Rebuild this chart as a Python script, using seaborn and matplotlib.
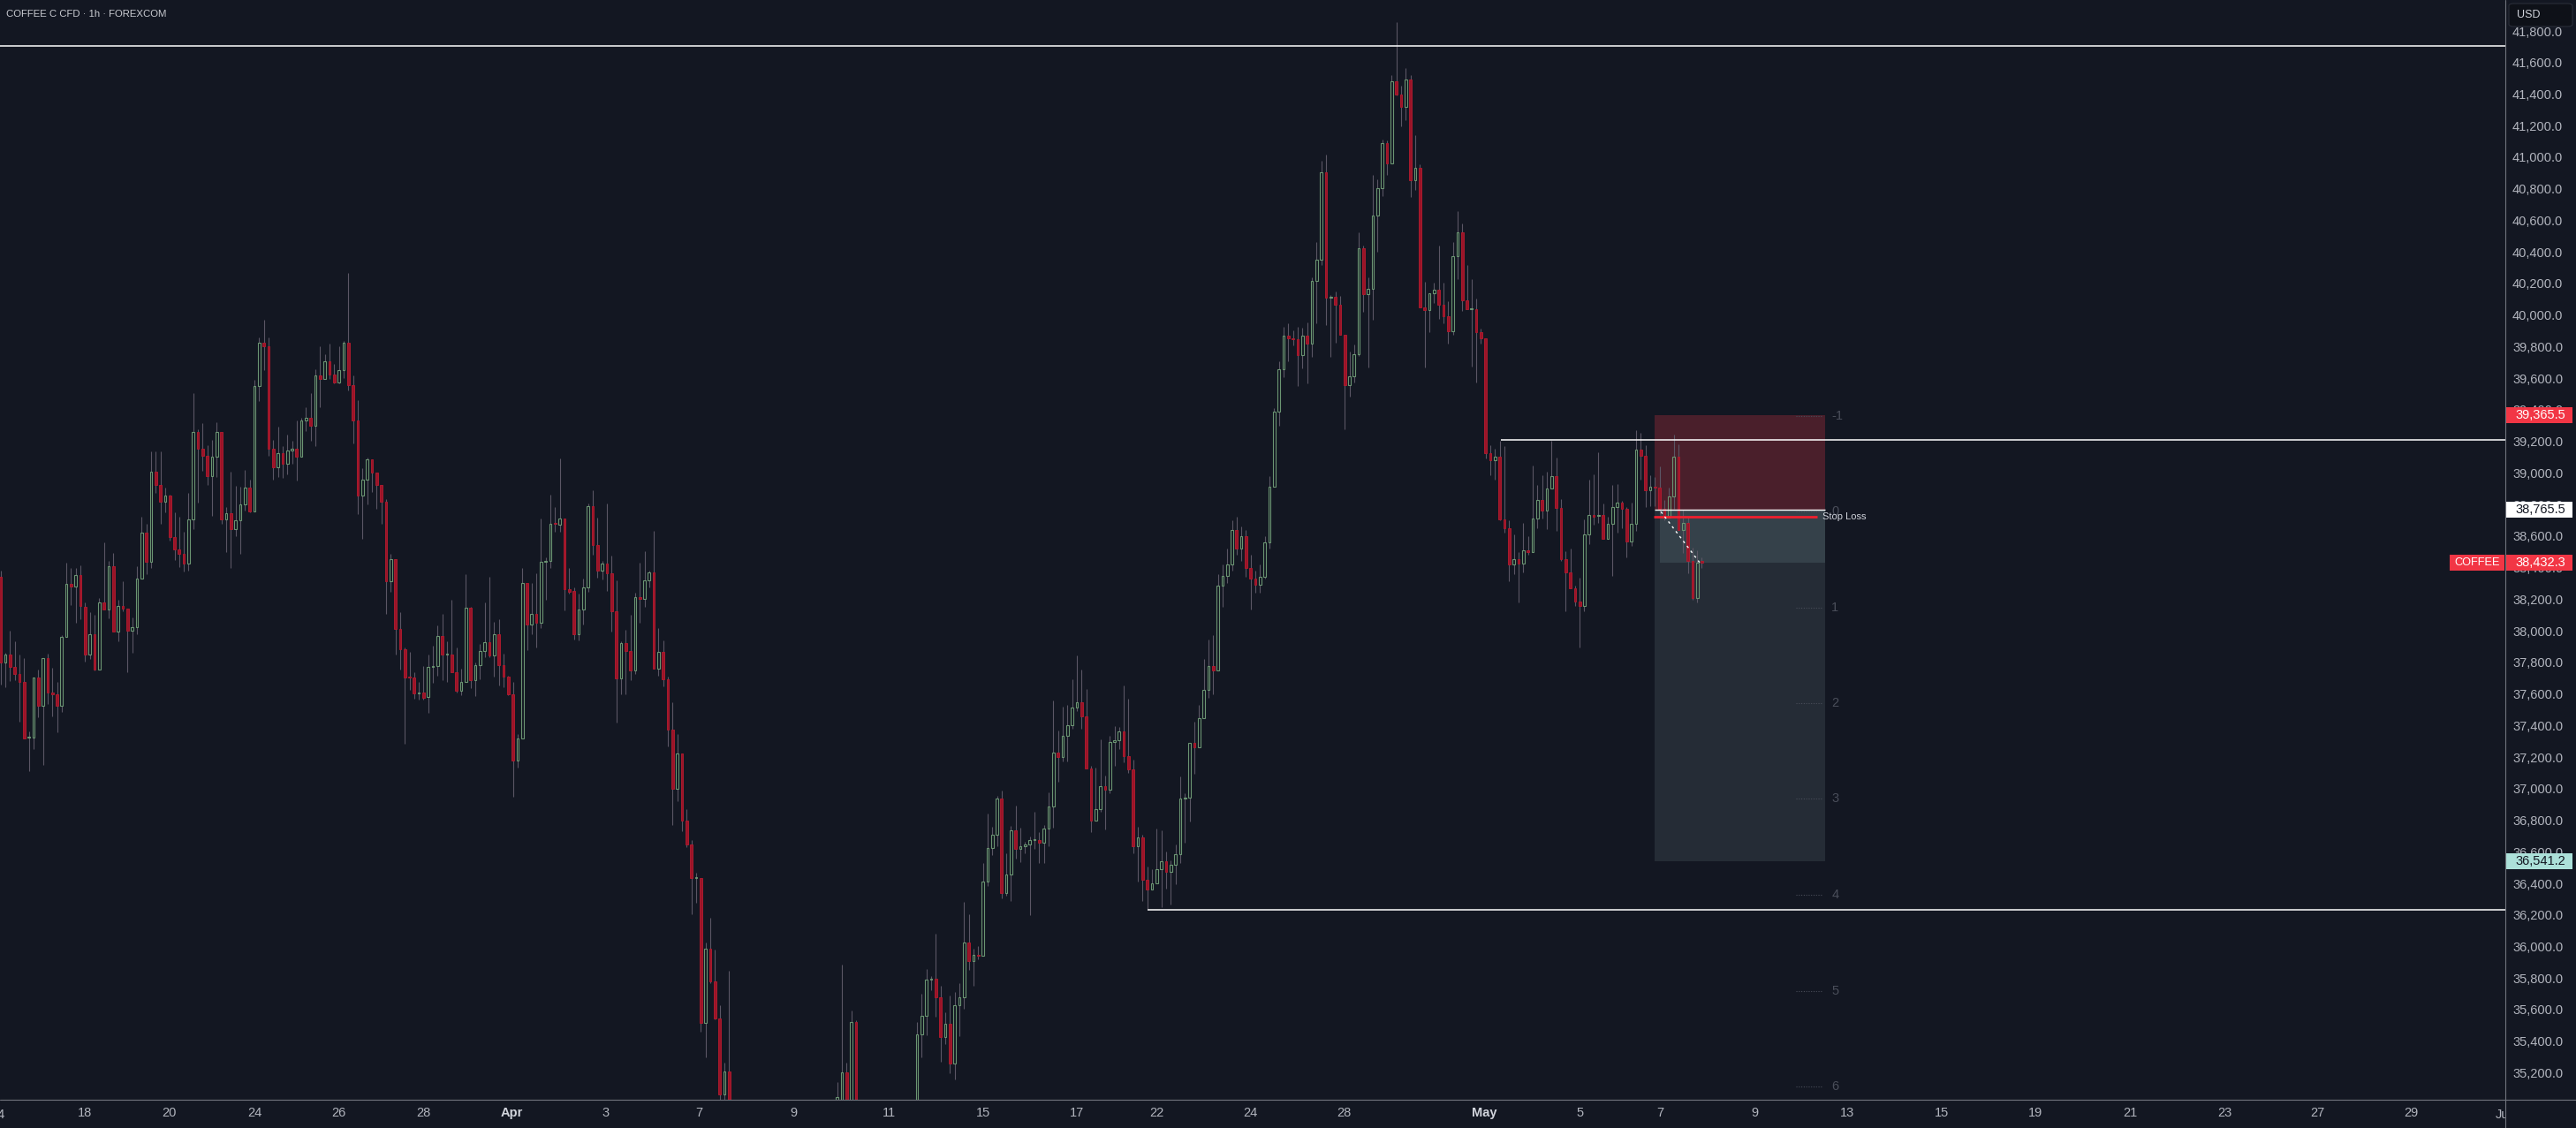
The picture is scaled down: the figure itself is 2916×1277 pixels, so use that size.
import numpy as np
import pandas as pd
import matplotlib
matplotlib.use("Agg")
import matplotlib.pyplot as plt
import seaborn as sns
from matplotlib.patches import Rectangle, FancyBboxPatch
from matplotlib.lines import Line2D
from matplotlib.transforms import blended_transform_factory, Bbox, TransformedBbox

# ---------------- data (hourly candles) ----------------
opens = [
    38340, 37800, 37850, 37770, 37725, 37675, 37325, 37325, 37705, 37525,
    37825, 37610, 37595, 37525, 37960, 38295, 38280, 38355, 38150, 37850,
    37980, 37755, 38180, 38135, 38410, 37995, 38155, 38140, 38000, 38025,
    38330, 38620, 38435, 39005, 38925, 38815, 38855, 38595, 38515, 38490,
    38425, 38705, 39260, 39155, 39110, 38980, 39105, 39260, 38705, 38745,
    38645, 38700, 38800, 38905, 38755, 39550, 39825, 39805, 39155, 39035,
    39125, 39060, 39140, 39155, 39105, 39335, 39350, 39300, 39620, 39595,
    39705, 39625, 39575, 39650, 39825, 39555, 39330, 38855, 38955, 39085,
    39000, 38925, 38815, 38315, 38455, 38010, 37885, 37708, 37705, 37605,
    37610, 37580, 37770, 37775, 37965, 37850, 37850, 37740, 37620, 37675,
    38145, 37685, 37780, 37870, 37925, 37845, 37980, 37785, 37710, 37595,
    37180, 37320, 38305, 38040, 38105, 38050, 38435, 38445, 38680, 38670,
    38710, 38265, 38250, 37980, 38135, 38275, 38790, 38545, 38380, 38425,
    38365, 38125, 37700, 37920, 37870, 37750, 38215, 38200, 38320, 38370,
    37760, 37865, 37690, 37375, 37000, 37220, 36800, 36645, 36435, 36435,
    35515, 35985, 35780, 35545, 35065, 35210, 34950, 34760, 34650, 34720,
    34850, 34740, 34540, 34620, 34700, 34640, 34450, 34560, 34690, 34610,
    34520, 34640, 34760, 34700, 34580, 34720, 34820, 34880, 34900, 34990,
    35205, 34950, 35520, 34880, 34700, 34780, 34900, 34760, 34640, 34720,
    34840, 34800, 34700, 34820, 34880, 34940, 35445, 35560, 35790, 35795,
    35680, 35425, 35510, 35260, 35630, 35680, 36025, 35905, 35945, 35943,
    36410, 36625, 36705, 36940, 36340, 36455, 36735, 36620, 36635, 36645,
    36675, 36675, 36655, 36745, 36885, 37230, 37200, 37335, 37400, 37515,
    37545, 37455, 37125, 36800, 36870, 37015, 36995, 37295, 37305, 37365,
    37205, 37120, 36635, 36690, 36425, 36360, 36400, 36490, 36540, 36470,
    36515, 36585, 36935, 36945, 37290, 37260, 37445, 37625, 37775, 37750,
    38285, 38350, 38420, 38640, 38520, 38600, 38400, 38330, 38290, 38340,
    38560, 38910, 39390, 39655, 39870, 39852, 39849, 39745, 39870, 39820,
    40215, 40350, 40905, 40110, 40118, 40065, 39875, 39555, 39610, 39750,
    40425, 40135, 40165, 40630, 40805, 41090, 40960, 41480, 41400, 41320,
    41495, 40855, 40930, 40050, 40030, 40140, 40160, 40065, 39990, 39895,
    40375, 40525, 40095, 40040, 40040, 39890, 39855, 39125, 39080, 39105,
    38705, 38650, 38420, 38455, 38425, 38510, 38500, 38710, 38830, 38760,
    38900, 38980, 38780, 38455, 38370, 38270, 38185, 38155, 38610, 38735,
    38728, 38733, 38585, 38675, 38785, 38810, 38770, 38565, 38680, 39150,
    39110, 38890, 38908, 38905, 38775, 38718, 38850, 39105, 38640, 38685,
    38440, 38205, 38440,
]
highs = [
    38380, 37860, 38000, 37935, 37850, 37825, 37360, 37705, 37755, 37825,
    37855, 37765, 37675, 37975, 38430, 38400, 38395, 38415, 38180, 38120,
    38100, 38205, 38560, 38445, 38495, 38195, 38315, 38140, 38085, 38410,
    38720, 38680, 39135, 39135, 39135, 38905, 38860, 38750, 38725, 38630,
    38875, 39505, 39275, 39315, 39175, 39210, 39320, 39260, 38785, 39005,
    38920, 38910, 39020, 38960, 39590, 39860, 39970, 39860, 39210, 39295,
    39170, 39240, 39205, 39335, 39350, 39415, 39505, 39655, 39800, 39750,
    39820, 39690, 39800, 39835, 40265, 39620, 39460, 39030, 39100, 39085,
    39000, 38925, 38835, 38490, 38455, 38120, 37895, 37865, 37735, 37675,
    37775, 37850, 37905, 38035, 38105, 37935, 38195, 37895, 37760, 38360,
    38150, 37800, 37915, 38180, 38340, 38055, 38075, 37855, 37715, 37675,
    37345, 38395, 38305, 38300, 38365, 38710, 38465, 38865, 38785, 39090,
    38710, 38395, 38275, 38235, 38330, 38805, 38890, 38715, 38445, 38805,
    38475, 38320, 37935, 38005, 38100, 38240, 38430, 38505, 38380, 38635,
    38020, 37940, 37710, 37545, 37345, 37220, 36870, 36675, 36465, 36435,
    36025, 36180, 35980, 35625, 35265, 35845, 34990, 34880, 34800, 34900,
    34960, 34800, 34700, 34780, 34850, 34720, 34600, 34750, 34820, 34700,
    34680, 34800, 34900, 34780, 34760, 34880, 34950, 34980, 35140, 35885,
    35265, 35595, 35535, 34960, 34820, 34950, 34990, 34850, 34780, 34880,
    34960, 34900, 34860, 34950, 34980, 35520, 35700, 35860, 35810, 36080,
    35750, 35585, 35690, 35710, 35770, 36280, 36205, 35985, 36005, 36530,
    36840, 36760, 36955, 36990, 36590, 36765, 36890, 36755, 36665, 36695,
    36855, 36725, 36770, 36975, 37560, 37370, 37520, 37530, 37695, 37845,
    37755, 37630, 37145, 37135, 37310, 37080, 37335, 37395, 37390, 37655,
    37570, 37185, 36760, 36705, 36505, 36490, 36745, 36735, 36600, 36545,
    36645, 37075, 36970, 37290, 37425, 37530, 37820, 37945, 37975, 38360,
    38420, 38520, 38700, 38720, 38660, 38640, 38480, 38380, 38420, 38600,
    38980, 39410, 39710, 39925, 39950, 39905, 39925, 39920, 39955, 40240,
    40460, 40980, 41015, 40125, 40150, 40120, 39875, 39770, 39815, 40525,
    40440, 40240, 40890, 40860, 41110, 41105, 41520, 41855, 41455, 41565,
    41520, 41140, 40955, 40210, 40140, 40205, 40440, 40205, 40090, 40460,
    40660, 40580, 40315, 40230, 40105, 39915, 39855, 39175, 39155, 39205,
    39170, 38700, 38610, 38500, 38685, 38600, 39045, 38925, 38985, 39010,
    39205, 39100, 38835, 38505, 38520, 38285, 38335, 38705, 38955, 38990,
    39130, 38805, 38725, 38925, 38930, 38825, 38785, 38810, 39270, 39255,
    39175, 38985, 38975, 39040, 38830, 38905, 39245, 39180, 38765, 38720,
    38525, 38510, 38465,
]
lows = [
    37660, 37640, 37680, 37685, 37425, 37315, 37110, 37250, 37450, 37150,
    37535, 37455, 37355, 37485, 37960, 38165, 38050, 38075, 37805, 37820,
    37750, 37755, 38135, 38080, 37995, 37935, 38125, 37735, 37860, 37980,
    38330, 38360, 38395, 38875, 38680, 38750, 38570, 38450, 38405, 38375,
    38380, 38645, 38810, 39015, 38925, 38730, 38975, 38675, 38500, 38395,
    38600, 38490, 38760, 38750, 38755, 39455, 39650, 39110, 38960, 38975,
    38970, 38990, 39060, 38950, 39105, 39265, 39205, 39170, 39415, 39595,
    39595, 39570, 39570, 39600, 39525, 39185, 38740, 38585, 38800, 38880,
    38775, 38675, 38105, 38245, 37850, 37755, 37285, 37625, 37570, 37565,
    37565, 37480, 37670, 37715, 37685, 37675, 37735, 37610, 37590, 37675,
    37635, 37585, 37690, 37835, 37835, 37710, 37655, 37645, 37590, 36950,
    37135, 37320, 37875, 37980, 37895, 38015, 38195, 38400, 38630, 38625,
    38130, 38235, 37945, 37940, 38040, 38245, 38480, 38335, 38325, 38255,
    37995, 37420, 37600, 37600, 37685, 37725, 38050, 38150, 38275, 37760,
    37715, 37650, 37270, 36770, 36920, 36730, 36630, 36205, 36275, 35460,
    35300, 35765, 35540, 34900, 34880, 34800, 34700, 34600, 34520, 34650,
    34700, 34480, 34400, 34560, 34600, 34380, 34320, 34500, 34580, 34450,
    34420, 34560, 34650, 34520, 34500, 34640, 34700, 34760, 34850, 34950,
    34850, 34900, 34820, 34650, 34560, 34700, 34720, 34600, 34520, 34660,
    34760, 34650, 34620, 34760, 34800, 34900, 35300, 35440, 35725, 35555,
    35270, 35380, 35195, 35160, 35430, 35605, 35850, 35750, 35920, 35943,
    36385, 36580, 36635, 36305, 36320, 36290, 36555, 36535, 36590, 36200,
    36620, 36530, 36530, 36635, 36755, 37045, 37175, 37175, 37380, 37490,
    37380, 37125, 36725, 36800, 36855, 36740, 36970, 37145, 37250, 37165,
    37100, 36590, 36410, 36290, 36240, 36360, 36400, 36250, 36365, 36265,
    36395, 36530, 36655, 36790, 37095, 37260, 37445, 37575, 37600, 37750,
    38150, 38300, 38380, 38480, 38440, 38340, 38135, 38240, 38240, 38330,
    38520, 38910, 39300, 39605, 39710, 39810, 39550, 39660, 39570, 39735,
    39950, 40320, 39935, 39735, 39825, 39875, 39275, 39485, 39575, 39740,
    40020, 39670, 39970, 40400, 40755, 40890, 40960, 41390, 41195, 41235,
    40750, 40795, 40050, 39670, 39890, 40075, 39975, 39950, 39820, 39875,
    40230, 40025, 40040, 39675, 39575, 39820, 39090, 38985, 38955, 38700,
    38620, 38315, 38360, 38180, 38370, 38480, 38500, 38650, 38710, 38645,
    38900, 38635, 38445, 38125, 38270, 38155, 37895, 38125, 38550, 38670,
    38685, 38585, 38585, 38345, 38620, 38650, 38465, 38540, 38635, 38955,
    38785, 38790, 38790, 38740, 38700, 38718, 38770, 38640, 38495, 38365,
    38195, 38180, 38395,
]
closes = [
    37800, 37850, 37770, 37725, 37675, 37315, 37325, 37705, 37525, 37825,
    37610, 37595, 37525, 37960, 38295, 38280, 38355, 38155, 37850, 37980,
    37755, 38180, 38135, 38410, 37995, 38155, 38140, 38000, 38025, 38330,
    38620, 38435, 39005, 38925, 38815, 38855, 38595, 38515, 38490, 38425,
    38705, 39260, 39155, 39110, 38980, 39105, 39260, 38705, 38745, 38645,
    38700, 38800, 38905, 38755, 39550, 39825, 39805, 39155, 39035, 39125,
    39060, 39140, 39155, 39105, 39335, 39350, 39300, 39620, 39595, 39705,
    39625, 39575, 39650, 39825, 39555, 39330, 38855, 38955, 39085, 39000,
    38925, 38815, 38315, 38455, 38010, 37885, 37705, 37705, 37605, 37610,
    37575, 37770, 37775, 37965, 37850, 37852, 37740, 37620, 37675, 38145,
    37685, 37780, 37870, 37925, 37845, 37980, 37785, 37710, 37595, 37180,
    37320, 38305, 38040, 38105, 38050, 38435, 38445, 38680, 38675, 38710,
    38265, 38245, 37980, 38135, 38275, 38790, 38545, 38380, 38425, 38365,
    38125, 37700, 37920, 37870, 37750, 38215, 38200, 38320, 38370, 37760,
    37865, 37690, 37375, 37000, 37220, 36800, 36645, 36435, 36437, 35515,
    35985, 35780, 35545, 35065, 35210, 34950, 34760, 34650, 34720, 34850,
    34740, 34540, 34620, 34700, 34640, 34450, 34560, 34690, 34610, 34520,
    34640, 34760, 34700, 34580, 34720, 34820, 34880, 34900, 35045, 35205,
    34960, 35520, 34880, 34700, 34780, 34900, 34760, 34640, 34720, 34840,
    34800, 34700, 34820, 34880, 34940, 35445, 35560, 35790, 35795, 35680,
    35425, 35510, 35260, 35630, 35680, 36025, 35905, 35945, 35943, 36410,
    36625, 36705, 36940, 36340, 36455, 36735, 36620, 36635, 36645, 36675,
    36675, 36655, 36745, 36885, 37230, 37200, 37335, 37400, 37515, 37545,
    37455, 37125, 36800, 36870, 37015, 36995, 37295, 37305, 37365, 37205,
    37120, 36635, 36690, 36425, 36360, 36400, 36490, 36540, 36470, 36515,
    36585, 36935, 36945, 37290, 37260, 37445, 37625, 37775, 37750, 38285,
    38350, 38420, 38640, 38520, 38600, 38400, 38330, 38290, 38340, 38560,
    38910, 39390, 39655, 39870, 39850, 39849, 39745, 39870, 39820, 40215,
    40350, 40905, 40110, 40118, 40065, 39875, 39555, 39610, 39750, 40425,
    40135, 40165, 40630, 40805, 41090, 40960, 41480, 41400, 41320, 41495,
    40855, 40930, 40050, 40030, 40140, 40160, 40065, 39990, 39895, 40375,
    40525, 40095, 40040, 40042, 39890, 39855, 39125, 39080, 39105, 38705,
    38650, 38420, 38455, 38425, 38510, 38500, 38710, 38830, 38760, 38900,
    38980, 38780, 38455, 38370, 38270, 38185, 38155, 38610, 38735, 38725,
    38733, 38585, 38675, 38785, 38810, 38770, 38565, 38680, 39150, 39110,
    38890, 38910, 38905, 38775, 38718, 38850, 39105, 38640, 38685, 38440,
    38205, 38430, 38432.3,
]

price_ticks = [35200, 35400, 35600, 35800, 36000, 36200, 36400, 36600, 36800,
               37000, 37200, 37400, 37600, 37800, 38000, 38200, 38400, 38600,
               38800, 39000, 39200, 39400, 39600, 39800, 40000, 40200, 40400,
               40600, 40800, 41000, 41200, 41400, 41600, 41800]

date_labels = ["18", "20", "24", "26", "28", "Apr", "3", "7", "9", "11", "15", "17",
               "22", "24", "28", "May", "5", "7", "9", "13", "15", "19", "21", "23",
               "27", "29"]
date_pos = [17.9, 35.8, 54.0, 71.9, 89.9, 108.7, 128.8, 148.7, 168.7, 189.0, 209.1,
            229.0, 246.0, 265.9, 285.8, 315.8, 336.0, 353.1, 373.2, 392.9, 413.0,
            433.0, 453.1, 473.2, 492.9, 513.0]
edge_labels = ["14", "Jun"]
edge_pos = [-0.41, 533.1]

# horizontal drawings
top_level = 41705
mid_level, mid_start = 39210, 319.2
low_level, low_start = 36230, 244.0

# short position tool
entry, stop, target, last_price = 38765.5, 39365.5, 36541.2, 38432.3
pos_start, pos_end, pnl_start = 352.0, 388.2, 353.1
sl_price, sl_start, sl_end = 38725, 351.8, 386.5
trade_path_x = [353.3, 361.5]
trade_path_y = [38754, 38433]
r_labels = ["-1", "0", "1", "2", "3", "4", "5", "6"]
r_levels = [39360, 38755, 38145, 37540, 36935, 36330, 35720, 35115]
r_line_start, r_line_end, r_text_x = 382.0, 387.6, 389.6

# ---------------- style ----------------
BG = "#131722"
GREEN = "#6b9572"
RED_FACE = "#9a1428"
RED_EDGE = "#b81b2f"
WICK = "#5b5665"
TICK_C = "#b2b5be"
AXIS_LINE = "#70737d"
DIM = "#4a4e5a"

sns.set_theme(style="dark", rc={"axes.facecolor": BG, "figure.facecolor": BG,
                                "savefig.facecolor": BG, "axes.grid": False})
plt.rcParams["font.family"] = ["Liberation Sans", "DejaVu Sans"]

W, H = 2916, 1277
AX_W_PX, AX_H_PX = 2836, 1245
fig = plt.figure(figsize=(W / 100, H / 100), dpi=100)
AX_R = AX_W_PX / W
AX_B = (H - AX_H_PX) / H
ax = fig.add_axes([0, AX_B, AX_R, 1 - AX_B])
ax.set_facecolor(BG)

X_MIN, X_MAX = -0.126, 532.96
Y_MIN, Y_MAX = 35029.0, 41996.0

df = pd.DataFrame({"open": opens, "high": highs, "low": lows, "close": closes})
df["x"] = np.arange(len(df))
df["up"] = df["close"] >= df["open"]
df["body_lo"] = df[["open", "close"]].min(axis=1)
df["body_hi"] = df[["open", "close"]].max(axis=1)
px_per_price = AX_H_PX / (Y_MAX - Y_MIN)
min_body = 1.0 / px_per_price
df["body_h"] = np.maximum(df["body_hi"] - df["body_lo"], min_body)

# position tool boxes (behind candles)
ax.add_patch(Rectangle((pos_start, entry), pos_end - pos_start, stop - entry,
                       facecolor="#4a1f2b", edgecolor="none", zorder=1))
ax.add_patch(Rectangle((pos_start, target), pos_end - pos_start, entry - target,
                       facecolor="#252c36", edgecolor="none", zorder=1))
ax.add_patch(Rectangle((pnl_start, last_price), pos_end - pnl_start, entry - last_price,
                       facecolor="#35414a", edgecolor="none", zorder=1.5))

# wicks
ax.vlines(df["x"], df["body_hi"], df["high"], color=WICK, lw=0.8, zorder=3)
ax.vlines(df["x"], df["low"], df["body_lo"], color=WICK, lw=0.8, zorder=3)
# bodies
up = df[df["up"]]
dn = df[~df["up"]]
ax.bar(up["x"], up["body_h"], bottom=up["body_lo"], width=0.5, color="none",
       edgecolor=GREEN, linewidth=0.8, zorder=4)
ax.bar(dn["x"], dn["body_h"], bottom=dn["body_lo"], width=0.5, color=RED_FACE,
       edgecolor=RED_EDGE, linewidth=0.6, zorder=4)

# horizontal lines
ax.axhline(top_level, color="white", lw=1.1, zorder=6)
ax.hlines(mid_level, mid_start, X_MAX, color="white", lw=1.1, zorder=6)
ax.hlines(low_level, low_start, X_MAX, color="white", lw=1.1, zorder=6)

# position details
ax.hlines(entry, pos_start, pos_end, color="white", lw=1.0, zorder=6)
ax.hlines(sl_price, sl_start, sl_end, color="#f0202f", lw=2.0, zorder=6)
ax.text(sl_end + 1.1, sl_price, "Stop Loss", color="#d1d4dc", fontsize=8,
        va="center", ha="left", zorder=7)
ax.plot(trade_path_x, trade_path_y, color="white", lw=1.0, ls=(0, (2, 3)), zorder=7)
for lab, lv in zip(r_labels, r_levels):
    ax.hlines(lv, r_line_start, r_line_end, colors=DIM, linestyles=(0, (1, 1.5)), lw=0.8, zorder=2)
    ax.text(r_text_x, lv, lab, color=DIM, fontsize=10.5, va="center", ha="left", zorder=2)

ax.set_xlim(X_MIN, X_MAX)
ax.set_ylim(Y_MIN, Y_MAX)
sns.despine(ax=ax, left=True, right=True, top=True, bottom=True)
ax.grid(False)

# y axis on the right
ax.yaxis.tick_right()
ax.set_yticks(price_ticks)
ax.set_yticklabels([f"{v:,.1f}" for v in price_ticks])
ax.tick_params(axis="y", length=0, pad=5.8, labelsize=10.5, labelcolor=TICK_C)

# x axis dates
ax.set_xticks(date_pos)
ax.set_xticklabels(date_labels)
ax.tick_params(axis="x", length=0, pad=5.8, labelsize=10.5, labelcolor=TICK_C)
for t in ax.get_xticklabels():
    if t.get_text() in ("Apr", "May"):
        t.set_fontweight("bold")
        t.set_color("#d1d4dc")

clip_bb = TransformedBbox(Bbox([[0, 0], [AX_R, 1]]), fig.transFigure)
trans_xf = blended_transform_factory(ax.transData, fig.transFigure)
for lab, p in zip(edge_labels, edge_pos):
    t = fig.text(p, (H - 1261.7) / H, lab, transform=trans_xf, ha="center", va="center",
                 fontsize=10.5, color=TICK_C)
    t.set_clip_on(True)
    t.set_clip_box(clip_bb)

# frame lines
fig.add_artist(Line2D([0, 1], [AX_B, AX_B], transform=fig.transFigure, color=AXIS_LINE, lw=0.8))
fig.add_artist(Line2D([AX_R, AX_R], [0, 1], transform=fig.transFigure, color=AXIS_LINE, lw=0.8))

# price labels on the axis
trans_ay = blended_transform_factory(ax.transAxes, ax.transData)


def price_box(price, text, face, tcolor, x0=2837, x1=2912, tx=2847, h_px=18, ha="left", fs=10.5):
    hh = h_px / px_per_price
    ax.add_patch(Rectangle((x0 / AX_W_PX, price - hh / 2), (x1 - x0) / AX_W_PX, hh,
                           transform=trans_ay, facecolor=face, edgecolor="none",
                           clip_on=False, zorder=20))
    ax.text(tx / AX_W_PX, price, text, transform=trans_ay, color=tcolor, fontsize=fs,
            va="center", ha=ha, clip_on=False, zorder=21)


price_box(stop, f"{stop:,.1f}", "#f23645", "white")
price_box(entry, f"{entry:,.1f}", "white", "#131722")
price_box(last_price, f"{last_price:,.1f}", "#f23645", "white")
price_box(last_price, "COFFEE", "#f23645", "white", x0=2773, x1=2835, tx=2804, ha="center", fs=9.2)
price_box(target, f"{target:,.1f}", "#ace0d9", "#131722")

# USD box
fig.add_artist(FancyBboxPatch((2840 / W, 1 - 30 / H), 72 / W, 26 / H,
                              boxstyle="round,pad=0,rounding_size=0.002",
                              transform=fig.transFigure, facecolor="#0e1118",
                              edgecolor="#2a2e39", lw=0.8))
fig.text(2849 / W, 1 - 17 / H, "USD", color="#d1d4dc", fontsize=9, ha="left", va="center")

# title
fig.text(7 / W, 1 - 16 / H, "COFFEE C CFD · 1h · FOREXCOM", color="#c9cbd1",
         fontsize=8.2, ha="left", va="center")

fig.savefig("out.png", dpi=100, facecolor=BG)
